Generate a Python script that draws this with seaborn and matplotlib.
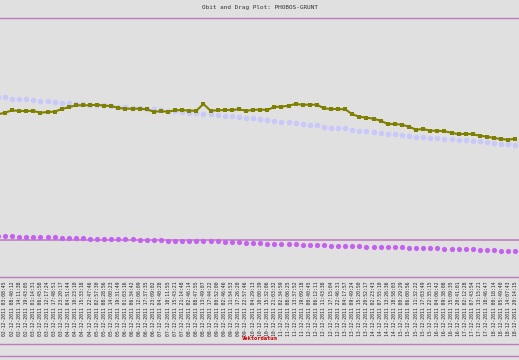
import pandas as pd
import numpy as np
import matplotlib
matplotlib.use('Agg')
import matplotlib.pyplot as plt
import seaborn as sns
from matplotlib.lines import Line2D

# values (arbitrary height units, no y axis shown)
# first point lies just left of the visible window
drag = [163.7, 165.3, 167.7, 167, 167, 167, 165.3, 166, 166.3, 169, 170.7, 172.7, 172.7, 172.7,
        173.3, 172.3, 172, 170, 169.3, 169.3, 169.3, 168.7, 166.3, 166.7, 166.3, 167.7, 168, 167.3,
        167.3, 174, 167.3, 167.7, 168, 168, 168.7, 167.3, 168, 168.5,
        168, 171, 171.3, 172.3, 174, 173.3, 173.3, 173.3, 169.7, 169, 169, 168.7, 163.7, 161.3,
        160.3, 159.3, 157.3, 154, 154, 153.3, 151.3, 148.3, 149, 147.3, 147.3, 146.7, 145.3, 143.7,
        144.3, 143.7, 142.3, 141.3, 140, 139, 138.3, 139.3]
apogee = [181.3, 180.7, 179.3, 179, 178.7, 178, 177.3, 176.7, 176, 175.3, 174.7, 174, 173.7, 173.3,
          173, 172.7, 172, 171.3, 171, 170.3, 170, 169.3, 168.7, 168, 167.3, 166.7, 166, 165.3,
          164.7, 164.3, 163.7, 163, 162.3, 161.7, 160.7, 160, 159.7, 159,
          157.7, 156.7, 156.3, 155.7, 154.7, 153.7, 153.3, 153, 151.3, 150.3, 150, 149.7, 148, 147.3,
          146.7, 145.7, 145.3, 144, 143.7, 143.3, 142.3, 141.3, 141, 140, 139.7, 139.3, 138.7, 138.3,
          138, 137.3, 136.7, 136, 135, 134, 133.7, 132.7]
perigee = [42.5, 42.3, 42, 41.3, 41.3, 41.3, 40.7, 40.7, 40.7, 40.3, 40.3, 40, 39.7, 39.3, 39.3,
           39, 39, 39, 39, 39, 38.3, 38, 37.7, 37.7, 37.3, 37.3, 37.3, 37, 37, 37, 36.7, 36.7, 36.3,
           36.3, 36, 35.3, 35.3, 35.3,
           34.3, 34.3, 34.3, 34, 33.7, 33.3, 33.3, 33.3, 32.7, 32.3, 32.3, 32.3, 32, 32, 31.3, 31.3,
           31, 31, 31, 31, 30.3, 30, 30, 29.7, 29.7, 29.3, 29, 29, 29, 28.7, 28.3, 28, 27.7, 27.3,
           27.3, 27.3]
ref_level = 38

# labels of the visible points (index 1 onwards)
vektordatum = [
    "02-12-2011 03:08:45", "02-12-2011 08:40:12", "02-12-2011 14:11:38",
    "02-12-2011 19:43:05", "03-12-2011 01:14:31", "03-12-2011 06:45:58", "03-12-2011 12:17:24",
    "03-12-2011 17:48:51", "03-12-2011 23:20:17", "04-12-2011 04:51:44", "04-12-2011 10:23:10",
    "04-12-2011 15:33:18", "04-12-2011 22:47:46", "05-12-2011 02:57:30", "05-12-2011 08:28:56",
    "05-12-2011 14:00:23", "05-12-2011 19:31:49", "06-12-2011 01:03:16", "06-12-2011 06:34:42",
    "06-12-2011 12:06:09", "06-12-2011 17:37:35", "06-12-2011 23:09:02", "07-12-2011 04:40:28",
    "07-12-2011 10:11:55", "07-12-2011 15:43:21", "07-12-2011 21:14:48", "08-12-2011 02:46:14",
    "08-12-2011 08:47:55", "08-12-2011 13:49:07", "08-12-2011 17:44:22", "09-12-2011 00:52:00",
    "09-12-2011 02:46:46", "09-12-2011 11:54:53", "09-12-2011 17:26:20", "09-12-2011 22:57:46",
    "10-12-2011 04:29:13", "10-12-2011 10:00:39", "10-12-2011 15:32:06", "10-12-2011 21:03:32",
    "11-12-2011 02:34:59", "11-12-2011 08:06:25", "11-12-2011 13:37:52", "11-12-2011 19:09:18",
    "12-12-2011 00:40:45", "12-12-2011 06:12:11", "12-12-2011 11:43:38", "12-12-2011 17:15:04",
    "12-12-2011 22:46:31", "13-12-2011 04:17:57", "13-12-2011 09:49:24", "13-12-2011 15:20:50",
    "13-12-2011 20:52:17", "14-12-2011 02:23:43", "14-12-2011 07:55:10", "14-12-2011 13:26:36",
    "14-12-2011 18:58:03", "15-12-2011 00:29:29", "15-12-2011 06:00:56", "15-12-2011 11:32:22",
    "15-12-2011 17:03:49", "15-12-2011 22:35:15", "16-12-2011 04:06:42", "16-12-2011 09:38:08",
    "16-12-2011 15:09:35", "16-12-2011 20:41:01", "17-12-2011 02:12:28", "17-12-2011 07:43:54",
    "17-12-2011 13:15:21", "17-12-2011 18:46:47", "18-12-2011 00:18:14", "18-12-2011 05:49:40",
    "18-12-2011 14:07:43", "18-12-2011 20:14:15"]

df = pd.DataFrame({'idx': np.arange(len(drag)), 'drag': drag,
                   'apogee': apogee, 'perigee': perigee})

sns.set_style('white')
plt.rcParams['font.family'] = ['DejaVu Sans Mono', 'DejaVu Sans']

bg = '#e0e0e0'
fig = plt.figure(figsize=(5.19, 3.6), dpi=100, facecolor=bg)
ax = fig.add_axes([0, 1 - 277 / 360, 1, 259 / 360])
ax.set_facecolor(bg)

sns.scatterplot(data=df, x='idx', y='apogee', ax=ax, color='#c8c8fa', s=16,
                linewidth=0, zorder=2, legend=False)
sns.lineplot(data=df, x='idx', y='drag', ax=ax, color='#808000', lw=1.5, marker='s',
             markersize=3.2, markeredgewidth=0, zorder=3, legend=False)
ax.axhline(ref_level, color='#c080c0', lw=1.2, zorder=2.5)
sns.scatterplot(data=df, x='idx', y='perigee', ax=ax, color='#c462f0', s=14,
                linewidth=0, zorder=3, legend=False)

ax.set_xlim(0.295, 73.52)
ax.set_ylim(1, 260)
ax.set_yticks([])
ax.set_xticks(df['idx'][1:])
ax.set_xticklabels(vektordatum, rotation=90, fontsize=3.4, color='#222222')
ax.tick_params(axis='x', direction='out', length=2, width=0.6, color='#c07ac0', pad=1)
ax.set_xlabel('Vektordatum', fontsize=4, color='#cc0000', fontweight='bold', labelpad=0.5)
ax.set_ylabel('')

for side in ['left', 'right']:
    ax.spines[side].set_visible(False)
ax.spines['top'].set_color('#c07ac0')
ax.spines['bottom'].set_color('#c07ac0')
ax.spines['top'].set_linewidth(1)
ax.spines['bottom'].set_linewidth(1)

fig.text(0.5, 1 - 8 / 360, 'Obit and Drag Plot: PHOBOS-GRUNT', ha='center', va='center',
         fontsize=4.3, color='#333333')
for yy in [344, 355.5]:
    fig.add_artist(Line2D([0, 1], [1 - yy / 360] * 2, color='#c07ac0', lw=1))

fig.savefig('out.png', dpi=100, facecolor=bg)
